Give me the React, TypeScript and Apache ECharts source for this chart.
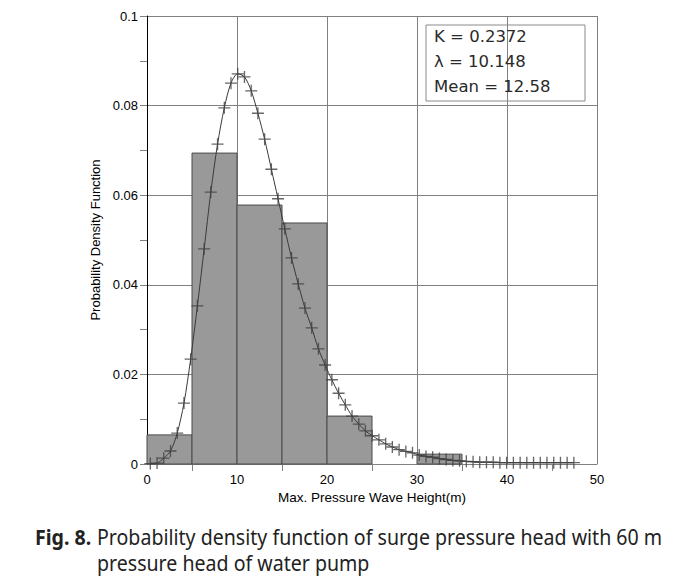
import React, { useEffect, useRef } from "react";
import * as echarts from "echarts";

// Histogram bins (m) and their probability densities
const binLeft = [0, 5, 10, 15, 20, 25, 30];
const binRight = [5, 10, 15, 20, 25, 30, 35];
const binDensity = [0.0065, 0.0694, 0.0578, 0.0538, 0.0107, 0, 0.0022];

// Fitted PDF curve points
const curveX = [
  0.37, 1.12, 1.86, 2.61, 3.36, 4.11, 4.85, 5.6, 6.35, 7.09,
  7.84, 8.59, 9.33, 10.08, 10.83, 11.58, 12.32, 13.07, 13.82, 14.56,
  15.31, 16.06, 16.8, 17.55, 18.3, 19.05, 19.79, 20.54, 21.29, 22.03,
  22.78, 23.53, 24.27, 25.02, 25.77, 26.52, 27.26, 28.01, 28.76, 29.5,
  30.25, 31.0, 31.74, 32.49, 33.24, 33.99, 34.73, 35.48, 36.23, 36.97,
  37.72, 38.47, 39.21, 39.96, 40.71, 41.46, 42.2, 42.95, 43.7, 44.44,
  45.19, 45.94, 46.68, 47.43,
];
const curveY = [
  0.0001, 0.0002, 0.0013, 0.0029, 0.0069, 0.0136, 0.0234, 0.0353, 0.048, 0.0607,
  0.0714, 0.0795, 0.085, 0.0871, 0.0864, 0.0833, 0.0783, 0.0725, 0.0658, 0.0592,
  0.0525, 0.046, 0.0402, 0.0348, 0.0304, 0.0257, 0.0221, 0.0188, 0.0158, 0.0132,
  0.0107, 0.0089, 0.0074, 0.0063, 0.0054, 0.0045, 0.0038, 0.0032, 0.0028, 0.0025,
  0.002, 0.0017, 0.0015, 0.0012, 0.001, 0.0008, 0.0007, 0.0006, 0.0005, 0.0004,
  0.0004, 0.0004, 0.0003, 0.0003, 0.0003, 0.0003, 0.0003, 0.0003, 0.0003, 0.0003,
  0.0003, 0.0003, 0.0003, 0.0003,
];

const yTickValues = [0, 0.02, 0.04, 0.06, 0.08, 0.1];
const yTickLabels = ["0", "0.02", "0.04", "0.06", "0.08", "0.1"];
const xTickValues = [0, 10, 20, 30, 40, 50];
const xTickLabels = ["0", "10", "20", "30", "40", "50"];

const statLines = ["K = 0.2372", "λ = 10.148", "Mean = 12.58"];
const captionBold = "Fig. 8.";
const captionLine1 = "Probability density function of surge pressure head with 60 m";
const captionLine2 = "pressure head of water pump";

const xAxisName = "Max. Pressure Wave Height(m)";
const yAxisName = "Probability Density Function";

const CROSS = "path://M0,4.45H10V5.55H0Z M4.45,0H5.55V10H4.45Z";

export default function App() {
  const ref = useRef<HTMLDivElement>(null);

  useEffect(() => {
    if (!ref.current) return;
    const chart = echarts.init(ref.current, null, { renderer: "svg" });

    const bins = binLeft
      .map((l, i) => [l, binRight[i], binDensity[i]])
      .filter((b) => b[2] > 0);
    const curve = curveX.map((x, i) => [x, curveY[i]]);
    const gray = "#808080";
    const axisFont = "'Liberation Sans', Arial, sans-serif";
    const capFont = "'Noto Sans', sans-serif";

    chart.setOption({
      animation: false,
      backgroundColor: "#fff",
      grid: { left: 147, right: 90, top: 16, bottom: 123, containLabel: false },
      xAxis: {
        type: "value",
        min: 0,
        max: 50,
        interval: 10,
        name: xAxisName,
        nameLocation: "middle",
        nameGap: 21,
        nameTextStyle: { fontFamily: axisFont, fontSize: 13.5, color: "#000" },
        axisLine: { show: true, lineStyle: { color: gray, width: 1 } },
        axisTick: { show: false },
        minorTick: { show: true, splitNumber: 2, length: 7, lineStyle: { color: gray } },
        splitLine: { show: true, lineStyle: { color: gray, width: 1 } },
        axisLabel: {
          fontFamily: axisFont,
          fontSize: 13,
          color: "#000",
          margin: 9,
          formatter: (v: number) => {
            const i = xTickValues.findIndex((t) => Math.abs(t - v) < 1e-9);
            return i >= 0 ? xTickLabels[i] : "";
          },
        },
      },
      yAxis: {
        type: "value",
        min: 0,
        max: 0.1,
        interval: 0.02,
        name: yAxisName,
        nameLocation: "middle",
        nameGap: 40,
        nameTextStyle: { fontFamily: axisFont, fontSize: 13, color: "#000" },
        axisLine: { show: true, lineStyle: { color: "#000", width: 1 } },
        axisTick: { show: true, length: 7, lineStyle: { color: gray } },
        minorTick: { show: true, splitNumber: 2, length: 7, lineStyle: { color: gray } },
        splitLine: { show: true, lineStyle: { color: gray, width: 1 } },
        axisLabel: {
          fontFamily: axisFont,
          fontSize: 13,
          color: "#000",
          margin: 9,
          formatter: (v: number) => {
            const i = yTickValues.findIndex((t) => Math.abs(t - v) < 1e-9);
            return i >= 0 ? yTickLabels[i] : "";
          },
        },
      },
      series: [
        {
          type: "custom",
          z: 2,
          data: bins,
          renderItem: (params: any, api: any) => {
            const p0 = api.coord([api.value(0), api.value(2)]);
            const p1 = api.coord([api.value(1), 0]);
            return {
              type: "rect",
              shape: { x: p0[0], y: p0[1], width: p1[0] - p0[0], height: p1[1] - p0[1] },
              style: { fill: "#999999", stroke: "#4a4a4a", lineWidth: 1 },
            };
          },
        },
        {
          type: "line",
          z: 3,
          data: curve,
          showSymbol: false,
          smooth: 0.3,
          lineStyle: { color: "#3a3a3a", width: 1 },
        },
        {
          type: "scatter",
          z: 4,
          data: curve,
          symbol: CROSS,
          symbolSize: 12,
          itemStyle: { color: "#404040" },
        },
      ],
      graphic: [
        {
          type: "rect",
          shape: { x: 426, y: 25, width: 159, height: 76 },
          style: { fill: "transparent", stroke: "#8a8a8a", lineWidth: 1 },
          z: 10,
        },
        ...statLines.map((t, i) => ({
          type: "text",
          x: 434,
          y: 36 + i * 25,
          z: 10,
          style: {
            text: t,
            fontFamily: "'DejaVu Sans', sans-serif",
            fontSize: 16.5,
            fill: "#2a2a2a",
            verticalAlign: "middle",
          },
        })),
        {
          type: "text",
          x: 35,
          y: 537,
          scaleX: 0.89,
          style: {
            text: captionBold,
            fontFamily: capFont,
            fontWeight: "bold",
            fontSize: 22,
            fill: "#222",
            verticalAlign: "middle",
          },
        },
        {
          type: "text",
          x: 97,
          y: 537,
          scaleX: 0.89,
          style: {
            text: captionLine1,
            fontFamily: capFont,
            fontSize: 22,
            fill: "#222",
            verticalAlign: "middle",
          },
        },
        {
          type: "text",
          x: 97,
          y: 563,
          scaleX: 0.89,
          style: {
            text: captionLine2,
            fontFamily: capFont,
            fontSize: 22,
            fill: "#222",
            verticalAlign: "middle",
          },
        },
      ],
    });

    return () => chart.dispose();
  }, []);

  return (
    <div
      ref={ref}
      style={{ position: "absolute", left: 0, top: 0, width: 687, height: 587 }}
    />
  );
}
